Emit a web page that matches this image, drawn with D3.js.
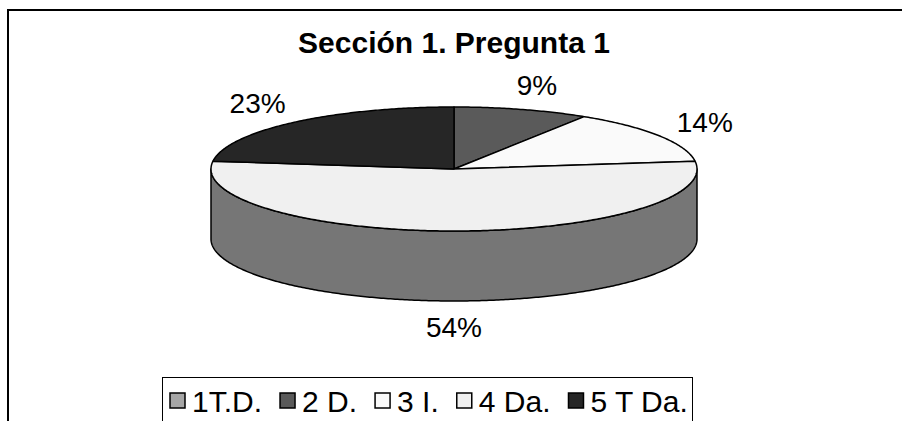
<!DOCTYPE html>
<html>
<head>
<meta charset="utf-8">
<script src="https://cdn.jsdelivr.net/npm/d3@7"></script>
<style>
  body { margin: 0; background: #fff; }
  svg { display: block; font-family: "Liberation Sans", Arial, sans-serif; }
</style>
</head>
<body>
<script>
var categories = ["1T.D.", "2 D.", "3 I.", "4 Da.", "5 T Da."];
var values = [0, 9, 14, 54, 23];
var colors = ["#a6a6a6", "#5a5a5a", "#fafafa", "#f0f0f0", "#262626"];
var title = "Sección 1. Pregunta 1";

var width = 902, height = 421;
var cx = 454, cy = 169, rx = 243, ry = 62, depth = 70;

var svg = d3.select("body").append("svg")
            .attr("width", width)
            .attr("height", height);

// chart area border (only top and left edges are in view)
svg.append("path")
   .attr("d", "M8,440V10H910")
   .attr("fill", "none")
   .attr("stroke", "#000")
   .attr("stroke-width", 2);

svg.append("text")
   .attr("x", cx)
   .attr("y", 53)
   .attr("text-anchor", "middle")
   .attr("font-size", 30)
   .attr("font-weight", "bold")
   .text(title);

var data = categories.map(function(c, i) {
    return { name: c, value: values[i], color: colors[i] };
});

var pie = d3.pie()
            .sort(null)
            .value(function(d) { return d.value; });

var arcs = pie(data).filter(function(d) { return d.value > 0; });

function px(a) { return cx + rx * Math.sin(a); }
function py(a) { return cy - ry * Math.cos(a); }

function arcPoints(a0, a1, dy) {
    var n = Math.max(2, Math.ceil(Math.abs(a1 - a0) / 0.01));
    return d3.range(n + 1).map(function(i) {
        var a = a0 + (a1 - a0) * i / n;
        return [px(a), py(a) + dy];
    });
}

var line = d3.line();

// sides (front half only)
arcs.forEach(function(d) {
    var s = Math.max(d.startAngle, Math.PI / 2);
    var e = Math.min(d.endAngle, Math.PI * 3 / 2);
    if (e <= s) return;
    var pts = arcPoints(s, e, 0).concat(arcPoints(e, s, depth));
    svg.append("path")
       .attr("d", line(pts) + "Z")
       .attr("fill", d3.color(d.data.color).darker(2))
       .attr("stroke", "#000")
       .attr("stroke-width", 1.5)
       .attr("stroke-linejoin", "round");
});

// tops
svg.selectAll("path.top")
   .data(arcs)
   .enter()
   .append("path")
   .attr("class", "top")
   .attr("d", function(d) {
       return line([[cx, cy]].concat(arcPoints(d.startAngle, d.endAngle, 0))) + "Z";
   })
   .attr("fill", function(d) { return d.data.color; })
   .attr("stroke", "#000")
   .attr("stroke-width", 1.5)
   .attr("stroke-linejoin", "round");

// labels
svg.selectAll("text.lbl")
   .data(arcs)
   .enter()
   .append("text")
   .attr("class", "lbl")
   .attr("x", function(d) {
       var m = (d.startAngle + d.endAngle) / 2;
       return cx + (rx + 54) * Math.sin(m);
   })
   .attr("y", function(d) {
       var m = (d.startAngle + d.endAngle) / 2;
       var c = Math.cos(m);
       return cy - (ry + 26) * c + (c < 0 ? -c * depth : 0);
   })
   .attr("dy", "0.36em")
   .attr("text-anchor", "middle")
   .attr("font-size", 28)
   .text(function(d) { return d.value + "%"; });

// legend
var legend = svg.append("g");
legend.append("rect")
      .attr("x", 162.5)
      .attr("y", 377.5)
      .attr("width", 530)
      .attr("height", 80)
      .attr("fill", "#fff")
      .attr("stroke", "#000")
      .attr("stroke-width", 1);

var lx = 170;
data.forEach(function(d) {
    legend.append("rect")
          .attr("x", lx)
          .attr("y", 393)
          .attr("width", 15)
          .attr("height", 15)
          .attr("fill", d.color)
          .attr("stroke", "#000")
          .attr("stroke-width", 1.5);
    var t = legend.append("text")
          .attr("x", lx + 22)
          .attr("y", 412)
          .attr("font-size", 30)
          .text(d.name);
    lx += 22 + t.node().getComputedTextLength() + 18;
});
</script>
</body>
</html>
